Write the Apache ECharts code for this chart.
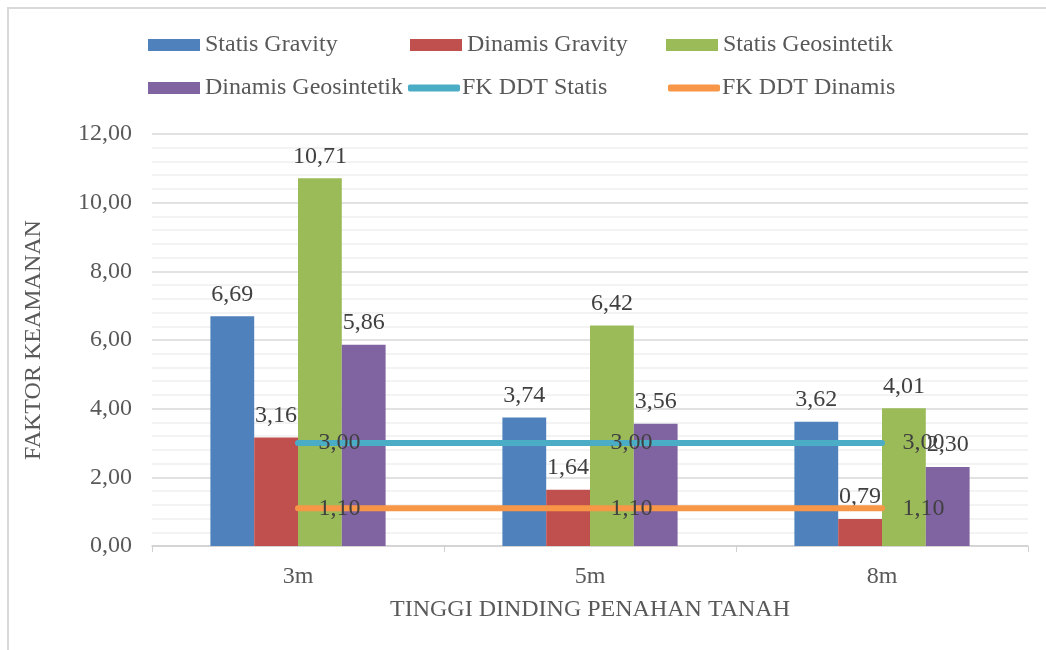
<!DOCTYPE html>
<html>
<head>
<meta charset="utf-8">
<script src="https://cdn.jsdelivr.net/npm/echarts@6/dist/echarts.min.js"></script>
<style>
  html, body { margin: 0; padding: 0; background: #fff; }
  #chart { width: 1046px; height: 650px; }
</style>
</head>
<body>
<div id="chart"></div>
<script>
const categories = ['3m', '5m', '8m'];
const statisGravity = [6.69, 3.74, 3.62];
const dinamisGravity = [3.16, 1.64, 0.79];
const statisGeosintetik = [10.71, 6.42, 4.01];
const dinamisGeosintetik = [5.86, 3.56, 2.30];
const fkStatis = [3.00, 3.00, 3.00];
const fkDinamis = [1.10, 1.10, 1.10];

const FONT = '"Liberation Serif", "Times New Roman", serif';
const FS = 24;
const fmt = function (v) {
  const n = typeof v === 'number' ? v : v.value;
  return n.toFixed(2).replace('.', ',');
};

const chart = echarts.init(document.getElementById('chart'));

const barLabel = {
  show: true,
  position: 'top',
  distance: 10,
  fontFamily: FONT,
  fontSize: FS,
  color: '#404040',
  formatter: function (p) { return fmt(p.value); },
};

function barSeries(name, data, color) {
  return {
    name: name,
    type: 'bar',
    data: data,
    barGap: '0%',
    barCategoryGap: '40%',
    itemStyle: { color: color },
    label: barLabel,
    z: 2,
  };
}

function lineSeries(name, data, color) {
  return {
    name: name,
    type: 'line',
    data: data,
    symbol: 'circle',
    symbolSize: 1,
    itemStyle: { color: color },
    lineStyle: { width: 6, color: color, cap: 'round' },
    label: {
      show: true,
      position: 'right',
      distance: 20,
      fontFamily: FONT,
      fontSize: FS,
      color: '#404040',
      formatter: function (p) { return fmt(p.value); },
    },
    z: 5,
  };
}

// one legend per item so the columns line up like the original
const legendItems = [
  { name: 'Statis Gravity', left: 148, top: 33, line: false },
  { name: 'Dinamis Gravity', left: 410, top: 33, line: false },
  { name: 'Statis Geosintetik', left: 666, top: 33, line: false },
  { name: 'Dinamis Geosintetik', left: 148, top: 76, line: false },
  { name: 'FK DDT Statis', left: 408, top: 76, line: true },
  { name: 'FK DDT Dinamis', left: 668, top: 76, line: true },
];

const legends = legendItems.map(function (it) {
  return {
    data: [it.name],
    left: it.left,
    top: it.top,
    padding: 0,
    itemWidth: 52,
    itemHeight: it.line ? 7 : 12,
    itemGap: 0,
    icon: it.line ? 'roundRect' : 'rect',
    selectedMode: false,
    textStyle: {
      fontFamily: FONT,
      fontSize: FS,
      color: '#595959',
      padding: [0, 0, 0, it.line ? -3 : 0],
    },
  };
});

const option = {
  backgroundColor: '#fff',
  animation: false,
  legend: legends,
  graphic: [{
    type: 'rect',
    shape: { x: 8, y: 8, width: 1100, height: 700 },
    style: { fill: 'none', stroke: '#d9d9d9', lineWidth: 2 },
    silent: true,
  }],
  grid: {
    left: 152,
    right: 18,
    top: 134,
    bottom: 104,
  },
  xAxis: {
    type: 'category',
    data: categories,
    name: 'TINGGI DINDING PENAHAN TANAH',
    nameLocation: 'middle',
    nameGap: 52,
    nameTextStyle: { fontFamily: FONT, fontSize: FS, color: '#595959' },
    axisLine: { lineStyle: { color: '#d0d0d0', width: 1.5 } },
    axisTick: { show: true, length: 6, lineStyle: { color: '#d0d0d0' } },
    axisLabel: { fontFamily: FONT, fontSize: FS, color: '#595959', margin: 19 },
  },
  yAxis: {
    type: 'value',
    min: 0,
    max: 12,
    interval: 2,
    name: 'FAKTOR KEAMANAN',
    nameLocation: 'middle',
    nameGap: 106,
    nameTextStyle: { fontFamily: FONT, fontSize: FS, color: '#595959' },
    axisLine: { show: false },
    axisTick: { show: false },
    axisLabel: {
      fontFamily: FONT,
      fontSize: FS,
      color: '#595959',
      margin: 20,
      formatter: function (v) { return fmt(v); },
    },
    splitLine: { lineStyle: { color: '#d9d9d9', width: 1.5 } },
    minorTick: { show: false, splitNumber: 5 },
    minorSplitLine: { show: true, lineStyle: { color: '#efefef', width: 1.5 } },
  },
  series: [
    barSeries('Statis Gravity', statisGravity, '#4F81BD'),
    barSeries('Dinamis Gravity', dinamisGravity, '#C0504D'),
    barSeries('Statis Geosintetik', statisGeosintetik, '#9BBB59'),
    barSeries('Dinamis Geosintetik', dinamisGeosintetik, '#8064A2'),
    lineSeries('FK DDT Statis', fkStatis, '#4BACC6'),
    lineSeries('FK DDT Dinamis', fkDinamis, '#F79646'),
  ],
};

chart.setOption(option);
</script>
</body>
</html>
